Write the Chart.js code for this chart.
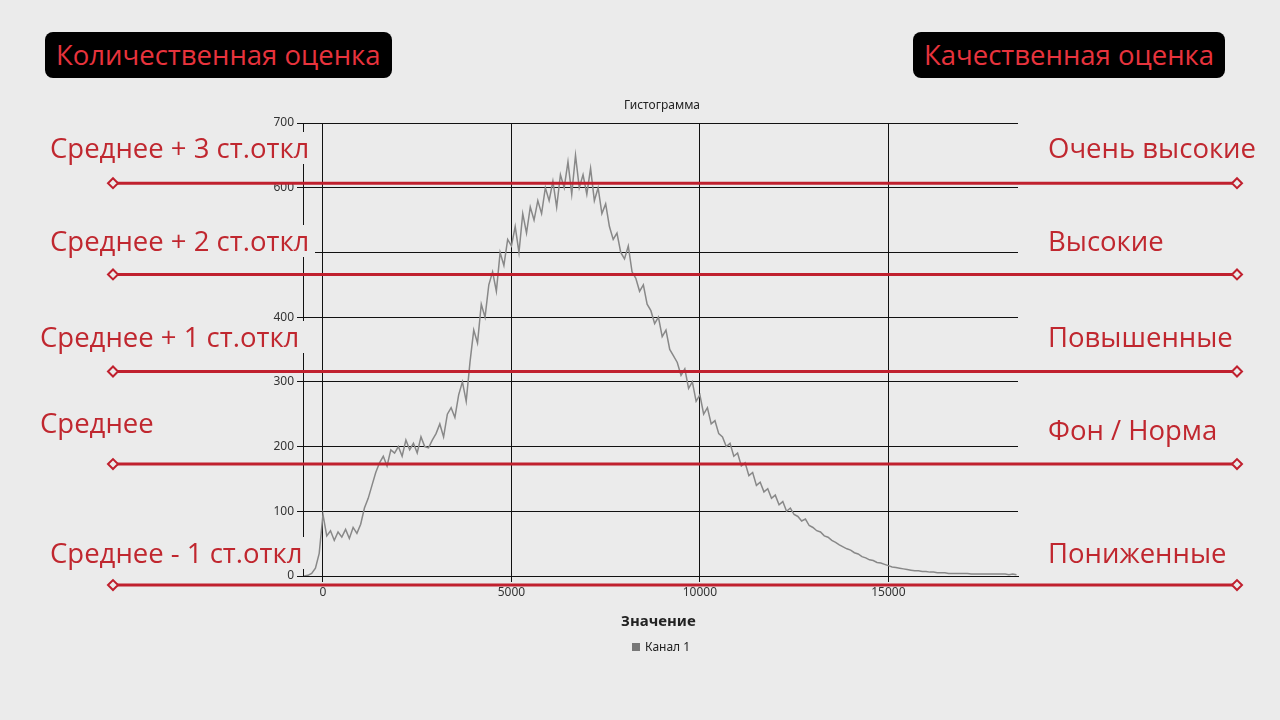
<!DOCTYPE html>
<html>
<head>
<meta charset="utf-8">
<script src="https://cdn.jsdelivr.net/npm/chart.js@4"></script>
<style>
  body { margin: 0; background: #ebebeb; font-family: "Open Sans", sans-serif; }
  #wrap { position: relative; width: 1280px; height: 720px; overflow: hidden; }
  canvas { position: absolute; left: 0; top: 0; }
  .box { position: absolute; top: 32px; height: 46px; background: #000; color: #e8333d; border-radius: 8px;
         font-size: 27.5px; line-height: 46px; padding: 0 11px; }
  .lbl { position: absolute; color: #c0272f; font-size: 27.5px; line-height: 32px; background: #ebebeb; padding-right: 6px; }
  .small { position: absolute; font-family: "Noto Sans", sans-serif; color: #222; }
</style>
</head>
<body>
<div id="wrap">
  <canvas id="hist" width="1280" height="720"></canvas>
  <div class="small" style="left:624px;top:96px;font-size:12px;">Гистограмма</div>
  <div class="small" style="left:621px;top:610px;font-size:15px;font-weight:bold;">Значение</div>
  <div class="small" style="left:632px;top:638px;font-size:12px;"><span style="display:inline-block;width:8px;height:8px;background:#777;margin-right:5px;"></span>Канал 1</div>
  <div class="box" style="left:45px;">Количественная оценка</div>
  <div class="box" style="left:913px;">Качественная оценка</div>
  <div class="lbl" style="left:50px;top:132px;">Среднее + 3 ст.откл</div>
  <div class="lbl" style="left:50px;top:225px;">Среднее + 2 ст.откл</div>
  <div class="lbl" style="left:40px;top:321px;">Среднее + 1 ст.откл</div>
  <div class="lbl" style="left:40px;top:407px;">Среднее</div>
  <div class="lbl" style="left:50px;top:537px;">Среднее - 1 ст.откл</div>
  <div class="lbl" style="left:1048px;top:132px;">Очень высокие</div>
  <div class="lbl" style="left:1048px;top:225px;">Высокие</div>
  <div class="lbl" style="left:1048px;top:321px;">Повышенные</div>
  <div class="lbl" style="left:1048px;top:414px;">Фон / Норма</div>
  <div class="lbl" style="left:1048px;top:537px;">Пониженные</div>
</div>
<script>
// histogram counts, one per 100 units starting at -500
const xStart = -500;
const binStep = 100;
const counts = [
    0, 1, 4, 12, 35,
    95, 62, 70, 55, 68, 60, 72, 58, 75, 66,
    80, 105, 120, 140, 160, 175, 185, 170, 195, 190,
    200, 185, 210, 195, 205, 190, 215, 200, 198, 210,
    220, 235, 215, 250, 260, 245, 280, 300, 270, 330,
    380, 360, 420, 400, 450, 470, 440, 500, 480, 520,
    510, 540, 500, 560, 530, 570, 550, 580, 560, 600,
    580, 610, 570, 620, 600, 640, 590, 650, 600, 620,
    590, 630, 580, 600, 560, 575, 540, 520, 530, 500,
    490, 510, 470, 460, 440, 450, 420, 410, 390, 400,
    370, 380, 350, 340, 330, 310, 320, 290, 300, 270,
    280, 250, 260, 235, 240, 220, 215, 200, 205, 185,
    190, 170, 175, 155, 160, 140, 145, 130, 135, 120,
    125, 110, 115, 100, 105, 95, 92, 85, 88, 78,
    75, 70, 68, 62, 60, 55, 52, 48, 45, 42,
    40, 36, 34, 30, 28, 25, 24, 21, 20, 18,
    16, 14, 13, 12, 11, 10, 9, 8, 8, 7,
    7, 6, 6, 5, 5, 5, 4, 4, 4, 4,
    4, 4, 3, 3, 3, 3, 3, 3, 3, 3,
    3, 3, 2, 3, 2
];
const xTicks = [0, 5000, 10000, 15000];
const yTicks = [0, 100, 200, 300, 400, 500, 600, 700];
// red level lines (mean, +/- std) in count units
const levels = [607, 466, 316, 173, -14];

const points = counts.map((c, i) => ({ x: xStart + i * binStep, y: c }));

const levelLines = {
    id: 'levelLines',
    afterDraw(chart) {
        const ctx = chart.ctx;
        const ys = chart.scales.y;
        ctx.save();
        ctx.strokeStyle = '#c0202e';
        ctx.lineWidth = 3;
        levels.forEach(v => {
            const y = ys.getPixelForValue(v);
            ctx.beginPath();
            ctx.moveTo(113, y);
            ctx.lineTo(1237, y);
            ctx.stroke();
            [113, 1237].forEach(x => {
                ctx.beginPath();
                ctx.moveTo(x - 5, y); ctx.lineTo(x, y - 5); ctx.lineTo(x + 5, y); ctx.lineTo(x, y + 5);
                ctx.closePath();
                ctx.fillStyle = '#ebebeb';
                ctx.fill();
                ctx.lineWidth = 2;
                ctx.stroke();
                ctx.lineWidth = 3;
            });
        });
        ctx.restore();
    }
};

new Chart(document.getElementById('hist'), {
    type: 'line',
    data: {
        datasets: [{
            label: 'Канал 1',
            data: points,
            borderColor: '#888888',
            borderWidth: 1.5,
            pointRadius: 0,
            tension: 0
        }]
    },
    options: {
        responsive: false,
        animation: false,
        layout: { padding: { left: 263, top: 123, right: 262, bottom: 114 } },
        plugins: { legend: { display: false }, tooltip: { enabled: false } },
        scales: {
            x: {
                type: 'linear',
                min: -530,
                max: 18440,
                afterBuildTicks: s => { s.ticks = xTicks.map(v => ({ value: v })); },
                afterFit: s => { s.height = 30; },
                grid: { color: '#111', lineWidth: 1, tickLength: 6 },
                border: { color: '#111' },
                ticks: { color: '#333', font: { family: 'Noto Sans', size: 12 }, callback: v => String(v) }
            },
            y: {
                min: 0,
                max: 700,
                afterBuildTicks: s => { s.ticks = yTicks.map(v => ({ value: v })); },
                afterFit: s => { s.width = 40; },
                grid: { color: '#111', lineWidth: 1, tickLength: 6 },
                border: { color: '#111' },
                ticks: { color: '#333', font: { family: 'Noto Sans', size: 12 }, callback: v => String(v) }
            }
        }
    },
    plugins: [levelLines]
});
</script>
</body>
</html>
